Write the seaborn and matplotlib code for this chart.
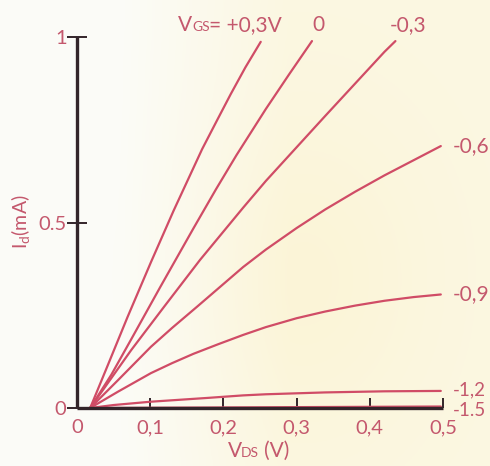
import numpy as np
import pandas as pd
import matplotlib
matplotlib.use("Agg")
import matplotlib.pyplot as plt
import seaborn as sns

# ---- data (V_DS in volts, I_d in mA) ----
vgs_labels = ["+0,3", "0", "-0,3", "-0,6", "-0,9", "-1,2", "-1.5"]

v_p03 = [0.018, 0.042, 0.069, 0.101, 0.132, 0.171, 0.192, 0.210, 0.230, 0.251]
i_p03 = [0.0, 0.115, 0.245, 0.393, 0.532, 0.698, 0.778, 0.846, 0.918, 0.987]

v_0 = [0.018, 0.047, 0.074, 0.114, 0.159, 0.190, 0.218, 0.258, 0.290, 0.321]
i_0 = [0.0, 0.090, 0.185, 0.327, 0.484, 0.590, 0.682, 0.806, 0.900, 0.989]

v_m03 = [0.018, 0.074, 0.119, 0.168, 0.227, 0.258, 0.339, 0.420, 0.435]
i_m03 = [0.0, 0.156, 0.273, 0.399, 0.540, 0.612, 0.787, 0.960, 0.989]

v_m06 = [0.018, 0.056, 0.101, 0.130, 0.164, 0.227, 0.258, 0.300, 0.339, 0.380, 0.420, 0.460, 0.497]
i_m06 = [0.0, 0.075, 0.165, 0.216, 0.273, 0.380, 0.427, 0.485, 0.535, 0.583, 0.627, 0.668, 0.706]

v_m09 = [0.018, 0.056, 0.101, 0.130, 0.159, 0.193, 0.227, 0.258, 0.300, 0.339, 0.380, 0.420, 0.460, 0.497]
i_m09 = [0.0, 0.044, 0.094, 0.121, 0.146, 0.172, 0.197, 0.218, 0.242, 0.260, 0.276, 0.289, 0.299, 0.306]

v_m12 = [0.018, 0.050, 0.101, 0.177, 0.227, 0.258, 0.339, 0.420, 0.497]
i_m12 = [0.0, 0.008, 0.017, 0.027, 0.034, 0.037, 0.042, 0.045, 0.046]

v_m15 = [0.018, 0.497]
i_m15 = [0.0, 0.004]

x_ticks = [0, 0.1, 0.2, 0.3, 0.4, 0.5]
x_ticklabels = ["0", "0,1", "0,2", "0,3", "0,4", "0,5"]
y_ticks = [0, 0.5, 1]
y_ticklabels = ["0", "0.5", "1"]

series_v = [v_p03, v_0, v_m03, v_m06, v_m09, v_m12, v_m15]
series_i = [i_p03, i_0, i_m03, i_m06, i_m09, i_m12, i_m15]

rows = []
for lab, vs, cur in zip(vgs_labels, series_v, series_i):
    for v, i in zip(vs, cur):
        rows.append({"VDS": v, "Id": i, "VGS": lab})
df = pd.DataFrame(rows)

# ---- style ----
sns.set_style("white")
plt.rcParams["font.family"] = ["Lato", "DejaVu Sans"]
plt.rcParams["mathtext.default"] = "regular"

LINE = "#d04c66"
TXT = "#c4586d"
AX = "#33252a"
FS = 15

W, H = 490, 466
fig = plt.figure(figsize=(W / 100, H / 100), dpi=100)

def fx(px):
    return px / W

def fy(py):
    return 1 - py / H

# background: scanned paper tint (left whitish, right creamy yellow)
bg = fig.add_axes([0, 0, 1, 1], zorder=-10)
xx = np.linspace(0, 1, 200)
yy = np.linspace(0, 1, 200)
X, Y = np.meshgrid(xx, yy)
t = np.clip((X - 0.24) / 0.35, 0, 1)
blob = np.exp(-(((X - 0.62) / 0.25) ** 2 + ((Y - 0.6) / 0.35) ** 2))
c_left = np.array([0.988, 0.988, 0.972])
c_right = np.array([0.988, 0.970, 0.885])
img = c_left[None, None, :] * (1 - t[..., None]) + c_right[None, None, :] * t[..., None]
img = img - blob[..., None] * np.array([0.0, 0.01, 0.04])[None, None, :]
bg.imshow(np.clip(img, 0, 1), aspect="auto", extent=[0, 1, 0, 1], origin="upper")
bg.axis("off")

ax = fig.add_axes([fx(77), fy(408), fx(443) - fx(77), fy(37) - fy(408)])
ax.patch.set_alpha(0)

sns.lineplot(data=df, x="VDS", y="Id", hue="VGS", hue_order=vgs_labels,
             palette=[LINE] * len(vgs_labels), estimator=None, sort=False,
             legend=False, linewidth=1.6, ax=ax)
for ln in ax.lines:
    ln.set_solid_joinstyle("round")
    ln.set_solid_capstyle("round")

ax.set_xlim(0, 0.5)
ax.set_ylim(0, 1)
for s in ["top", "right"]:
    ax.spines[s].set_visible(False)
for s in ["left", "bottom"]:
    ax.spines[s].set_color(AX)
    ax.spines[s].set_linewidth(2.4)
    ax.spines[s].set_capstyle("butt")

ax.set_xticks(x_ticks)
ax.set_xticklabels(x_ticklabels)
ax.set_yticks(y_ticks)
ax.set_yticklabels(y_ticklabels)
ax.tick_params(axis="x", direction="in", length=7, width=1.4, color=AX,
               labelcolor=TXT, labelsize=FS - 0.5, pad=8, bottom=True)
ax.tick_params(axis="y", direction="inout", length=14, width=1.4, color=AX,
               labelcolor=TXT, labelsize=FS - 0.5, pad=0.5, left=True)
ax.set_xlabel("")
ax.set_ylabel("")

# axis titles
fig.text(fx(228), fy(457), "V", fontsize=FS, color=TXT, ha="left", va="baseline")
fig.text(fx(241), fy(457), "DS", fontsize=10, color=TXT, ha="left", va="baseline")
fig.text(fx(264), fy(457), "(V)", fontsize=FS, color=TXT, ha="left", va="baseline")
fig.text(fx(21), fy(222), "$I_d$(mA)", fontsize=FS - 1, color=TXT, rotation=90,
         ha="center", va="center")

# curve labels
fig.text(fx(178), fy(31), "V", fontsize=FS, color=TXT, ha="left", va="baseline")
fig.text(fx(192), fy(31), "GS", fontsize=10, color=TXT, ha="left", va="baseline")
fig.text(fx(209), fy(31), "= +0,3V", fontsize=FS, color=TXT, ha="left", va="baseline")
fig.text(fx(318), fy(31), "0", fontsize=FS, color=TXT, ha="center", va="baseline")
fig.text(fx(390), fy(31), "-0,3", fontsize=FS, color=TXT, ha="left", va="baseline")
fig.text(fx(453), fy(146), "-0,6", fontsize=FS, color=TXT, ha="left", va="center")
fig.text(fx(453), fy(294), "-0,9", fontsize=FS, color=TXT, ha="left", va="center")
fig.text(fx(453), fy(390), "-1,2", fontsize=FS - 1.5, color=TXT, ha="left", va="center")
fig.text(fx(453), fy(411), "-1.5", fontsize=FS - 1.5, color=TXT, ha="left", va="center")

fig.savefig("out.png", dpi=100)
